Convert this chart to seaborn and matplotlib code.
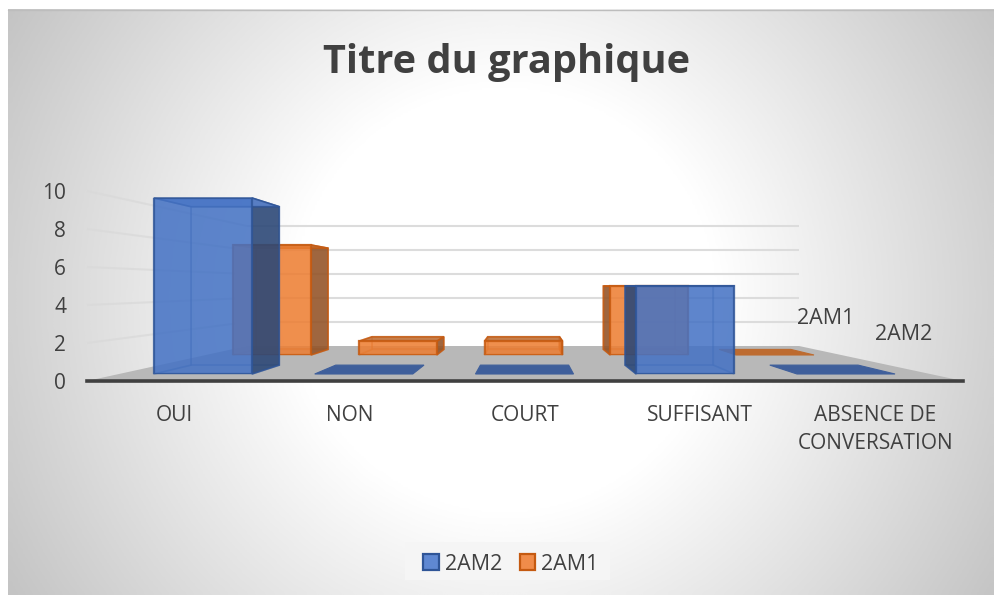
import numpy as np
import pandas as pd
import matplotlib
matplotlib.use("Agg")
import matplotlib.pyplot as plt
from matplotlib.patches import Polygon, Patch, Rectangle
import seaborn as sns

title = "Titre du graphique"
categories = ["OUI", "NON", "COURT", "SUFFISANT", "ABSENCE DE\nCONVERSATION"]
series_names = ["2AM2", "2AM1"]
values_2am2 = [10, 0, 0, 5, 0]
values_2am1 = [8, 1, 1, 5, 0]
y_ticks = [0, 2, 4, 6, 8, 10]

W, H = 994, 595
TXT = "#404040"
sns.set_theme(style="white")
plt.rcParams["font.family"] = ["Open Sans", "DejaVu Sans"]

df = pd.concat([
    pd.DataFrame({"cat": categories, "val": values_2am2, "serie": series_names[0]}),
    pd.DataFrame({"cat": categories, "val": values_2am1, "serie": series_names[1]}),
])

fig = plt.figure(figsize=(W / 100, H / 100), dpi=100, facecolor="white")


def px_axes(x0, x1, ytop, ybot, z):
    return fig.add_axes([x0 / W, 1 - ybot / H, (x1 - x0) / W, (ybot - ytop) / H], zorder=z)


# pixel-space backdrop: gradient, floor and walls
ax_px = fig.add_axes([0, 0, 1, 1], zorder=0)
gx, gy = np.meshgrid(np.linspace(8, 994, 400), np.linspace(9, 595, 300))
r = np.hypot(gx - 505, gy - 300) / 500
grad = 255 - 81 * np.clip(r - 0.42, 0, None)
ax_px.imshow(grad, extent=(8, 994, 595, 9), cmap="gray", vmin=0, vmax=255, aspect="auto", interpolation="bicubic")
ax_px.set_xlim(0, W)
ax_px.set_ylim(H, 0)
ax_px.axis("off")
ax_px.plot([8, 994], [9.5, 9.5], color="#BDBDBD", lw=1)

FLOOR_F, FLOOR_B = 381, 346
ax_px.add_patch(Polygon([(87, FLOOR_F), (963, FLOOR_F), (799, FLOOR_B), (247, FLOOR_B)],
                        closed=True, fc="#B8B8B8", ec="none"))
for v in y_ticks[1:]:
    yb = FLOOR_B - 12 * v
    ax_px.plot([87, 247], [FLOOR_F - 19 * v, yb], color="#D9D9D9", lw=1.5, alpha=0.75, solid_capstyle="butt")
    ax_px.plot([247, 799], [yb, yb], color="#DCDCDC", lw=1.5, solid_capstyle="butt")
ax_px.add_patch(Rectangle((405, 542), 205, 38, fc="#F5F5F5", ec="none"))

# value / category axes
ax = px_axes(87, 963, 191, FLOOR_F, 1)
ax.patch.set_alpha(0)
ax.set_xlim(-0.5, 4.5)
ax.set_ylim(0, 10)
ax.set_xticks(range(len(categories)), categories, linespacing=1.44)
ax.set_yticks(y_ticks)
ax.tick_params(axis="x", length=0, pad=17, labelsize=15, labelcolor=TXT)
ax.tick_params(axis="y", length=0, pad=15, labelsize=15, labelcolor=TXT)
sns.despine(ax=ax, left=True)
ax.spines["bottom"].set_color("#404040")
ax.spines["bottom"].set_linewidth(2.6)
ax.grid(False)

VP = (525, 285)


def draw_row(name, box, z, depth, width, col, edge, side, top_col, flat_col):
    a = px_axes(box[0], box[1], box[2], box[3], z)
    sub = df[df["serie"] == name]
    sns.barplot(data=sub, x="cat", y="val", order=categories, color=col, saturation=1,
                width=width, alpha=0.8, edgecolor=edge, linewidth=1.6, ax=a, errorbar=None)
    a.set_xlim(-0.5, 4.5)
    a.set_ylim(0, 10)
    a.axis("off")
    to_px = a.transData + ax_px.transData.inverted()
    for bar, v in zip(a.patches, sub["val"]):
        (x0, y0), (x1, y1) = to_px.transform([(bar.get_x(), 0), (bar.get_x() + bar.get_width(), bar.get_height())])
        back = lambda p: (p[0] + depth * (VP[0] - p[0]), p[1] + depth * (VP[1] - p[1]))
        fbl, fbr, ftl, ftr = (x0, y0), (x1, y0), (x0, y1), (x1, y1)
        bbl, bbr, btl, btr = back(fbl), back(fbr), back(ftl), back(ftr)
        tr = ax_px.transData
        kw = dict(closed=True, transform=tr, clip_on=False, zorder=1)
        if v == 0:
            a.add_patch(Polygon([fbl, fbr, bbr, bbl], fc=flat_col, ec=flat_col, lw=0.8, **kw))
            bar.set_visible(False)
            continue
        a.add_patch(Polygon([bbl, bbr, btr, btl], fc=col, alpha=0.3, ec=edge, lw=1.2, **kw))
        a.add_patch(Polygon([fbl, fbr, bbr, bbl], fc=col, alpha=0.25, ec=edge, lw=1.2, **kw))
        # the wall of the box that faces the viewer
        if (x0 + x1) / 2 < VP[0]:
            a.add_patch(Polygon([fbr, ftr, btr, bbr], fc=side, alpha=0.85, ec=edge, lw=1.2, **kw))
            a.add_patch(Polygon([fbl, ftl, btl, bbl], fc=col, alpha=0.3, ec=edge, lw=1.2, **kw))
        else:
            a.add_patch(Polygon([fbl, ftl, btl, bbl], fc=side, alpha=0.85, ec=edge, lw=1.2, **kw))
            a.add_patch(Polygon([fbr, ftr, btr, bbr], fc=col, alpha=0.3, ec=edge, lw=1.2, **kw))
        a.add_patch(Polygon([ftl, ftr, btr, btl], fc=top_col, alpha=0.85, ec=edge, lw=1.2, **kw))
        bar.set_zorder(2)
    return a


draw_row(series_names[1], (209.1, 837.9, 217.5, 355), 2, 0.08, 0.62,
         "#ED7D31", "#C55A11", "#8F5228", "#BE7038", "#BD6B30")
draw_row(series_names[0], (122.6, 926.4, 198, 374), 3, 0.10, 0.61,
         "#4472C4", "#2F5597", "#2B4673", "#5B84CE", "#3F5F9B")

# depth-axis labels
ax_px.text(826, 318, series_names[1], ha="center", va="center", fontsize=15.5, color=TXT)
ax_px.text(904, 335, series_names[0], ha="center", va="center", fontsize=15.5, color=TXT)

fig.suptitle(title, x=507 / W, y=1 - 62 / H, ha="center", va="center",
             fontsize=28.6, fontweight="bold", color=TXT)

handles = [
    Patch(fc="#5F88D2", ec="#2F5597", lw=1.6, label=series_names[0]),
    Patch(fc="#F08C4A", ec="#C55A11", lw=1.6, label=series_names[1]),
]
leg = fig.legend(handles=handles, loc="center", bbox_to_anchor=(511 / W, 1 - 564 / H), ncol=2,
                 fontsize=15.5, frameon=False, handlelength=0.7, handleheight=0.7, handletextpad=0.28,
                 columnspacing=0.85, labelcolor=TXT, borderpad=0.2)
leg.set_zorder(5)

fig.savefig("out.png", dpi=100, facecolor="white")
